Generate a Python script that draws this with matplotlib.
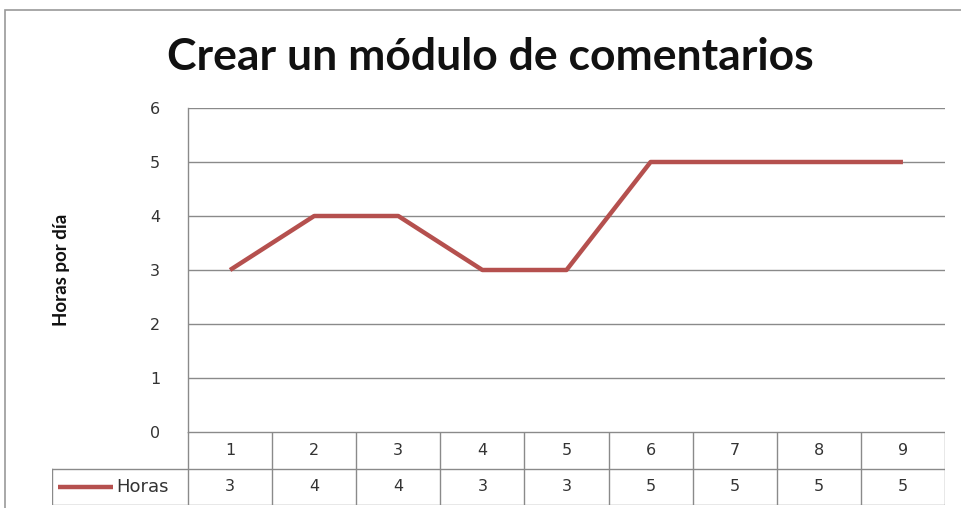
import matplotlib.pyplot as plt
from matplotlib.lines import Line2D
from matplotlib.patches import Rectangle

# data
categories = ['1', '2', '3', '4', '5', '6', '7', '8', '9']
horas = [3, 4, 4, 3, 3, 5, 5, 5, 5]
y_ticks = [0, 1, 2, 3, 4, 5, 6]
series_name = 'Horas'
title = 'Crear un módulo de comentarios'
y_label = 'Horas por día'

W, H = 961, 508
line_color = '#B5504E'
grid_color = '#8A8A8A'
tick_font = 'DejaVu Sans'
txt_color = '#333333'

fig = plt.figure(figsize=(W / 100, H / 100), dpi=100)

# outer chart frame
fig.add_artist(Rectangle((5 / W, -0.05), 1.1, (H - 10) / H + 0.05, transform=fig.transFigure,
                         fill=False, edgecolor='#9A9A9A', linewidth=1.2))

# plot area: x 188..945, y 108..432 (pixels)
px0, px1, py_top, py_bot = 188, 945, 108, 432
ax = fig.add_axes([px0 / W, (H - py_bot) / H, (px1 - px0) / W, (py_bot - py_top) / H])
x = list(range(1, len(categories) + 1))
ax.plot(x, horas, color=line_color, linewidth=3.2, solid_capstyle='butt', zorder=3)
ax.set_xlim(0.5, len(categories) + 0.5)
ax.set_ylim(0, 6)
ax.set_yticks(y_ticks)
ax.set_yticklabels([str(t) for t in y_ticks], fontsize=11.5, family=tick_font, color=txt_color)
ax.tick_params(axis='y', length=0, pad=20)
ax.set_xticks([])
ax.grid(axis='y', color=grid_color, linewidth=1.0)
for s in ['top', 'right', 'bottom']:
    ax.spines[s].set_visible(False)
ax.spines['left'].set_color(grid_color)
ax.spines['left'].set_linewidth(1.0)

fig.text(490 / W, 1 - 57 / H, title, ha='center', va='center', fontsize=32,
         fontweight='bold', family='Lato', color='#111111')
fig.text(62 / W, 1 - 270 / H, y_label, ha='center', va='center', rotation=90,
         fontsize=13.5, fontweight='bold', family='Lato', color='#111111')

# data table below: x 52..945, rows 432..469 and 469..505
cw = (px1 - px0) / len(categories)
leg_w = (px0 - 52) / cw
tx0 = 0.5 - leg_w
tax = fig.add_axes([52 / W, (H - 505) / H, (px1 - 52) / W, (505 - 432) / H])
tax.set_xlim(tx0, len(categories) + 0.5)
tax.set_ylim(0, 2)
tax.axis('off')
lw_t = 1.0
# horizontal lines
tax.plot([0.5, len(categories) + 0.5], [2, 2], color=grid_color, lw=lw_t)
tax.plot([tx0, len(categories) + 0.5], [1, 1], color=grid_color, lw=lw_t)
tax.plot([tx0, len(categories) + 0.5], [0, 0], color=grid_color, lw=lw_t)
# vertical lines
tax.plot([tx0, tx0], [0, 1], color=grid_color, lw=lw_t)
for i in range(len(categories) + 1):
    tax.plot([0.5 + i, 0.5 + i], [0, 2], color=grid_color, lw=lw_t)
for xi, c, v in zip(x, categories, horas):
    tax.text(xi, 1.5, c, ha='center', va='center', fontsize=11.5, family=tick_font, color=txt_color)
    tax.text(xi, 0.5, str(v), ha='center', va='center', fontsize=11.5, family=tick_font, color=txt_color)
# legend key
kx0 = tx0 + (58 - 52) / cw
kx1 = tx0 + (113 - 52) / cw
tax.add_line(Line2D([kx0, kx1], [0.5, 0.5], color=line_color, lw=3.2, solid_capstyle='butt'))
tax.text(tx0 + (116 - 52) / cw, 0.5, series_name, ha='left', va='center', fontsize=13,
         family=tick_font, color=txt_color)

fig.savefig('out.png', dpi=100)
